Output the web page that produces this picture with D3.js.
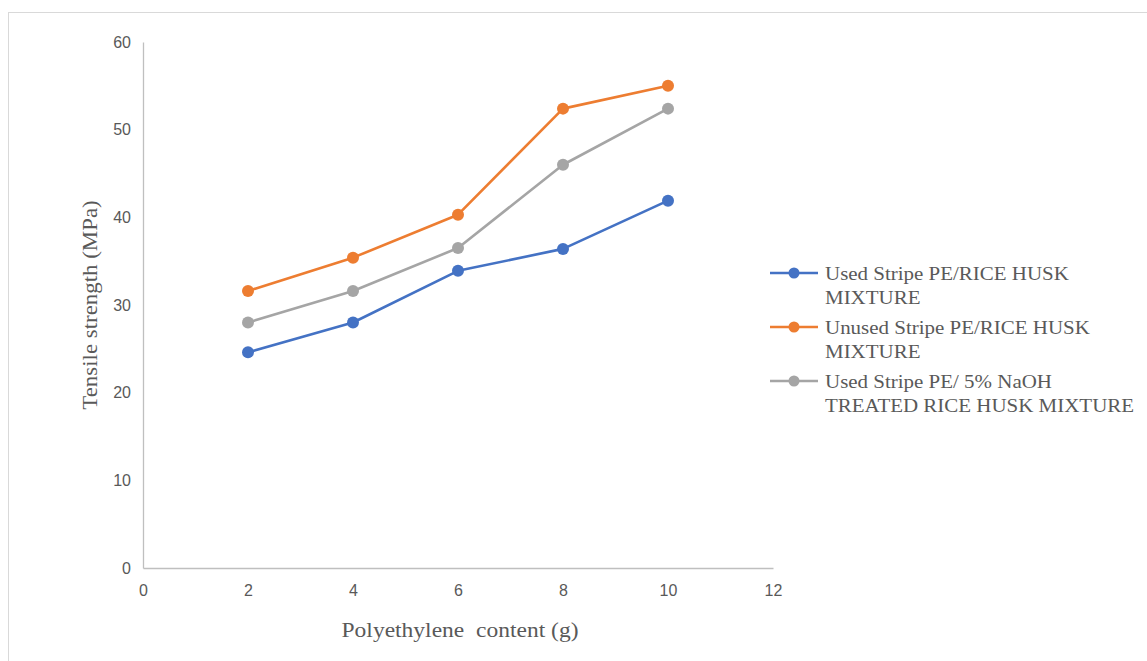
<!DOCTYPE html>
<html>
<head>
<meta charset="utf-8">
<script src="https://cdn.jsdelivr.net/npm/d3@7"></script>
<style>
  body { margin: 0; background: #fff; }
  svg { display: block; }
</style>
</head>
<body>
<div id="wrapper"></div>
<script>
// data
const contents = [2, 4, 6, 8, 10];
const usedStripe = [24.6, 28.0, 33.9, 36.4, 41.9];
const unusedStripe = [31.6, 35.4, 40.3, 52.4, 55.0];
const treatedStripe = [28.0, 31.6, 36.5, 46.0, 52.4];
const seriesNames = [
  ["Used Stripe PE/RICE HUSK", "MIXTURE"],
  ["Unused Stripe PE/RICE HUSK", "MIXTURE"],
  ["Used Stripe PE/ 5% NaOH", "TREATED RICE HUSK MIXTURE"]
];
const seriesColors = ["#4472C4", "#ED7D31", "#A5A5A5"];
const xTicks = [0, 2, 4, 6, 8, 10, 12];
const yTicks = [0, 10, 20, 30, 40, 50, 60];

const series = [usedStripe, unusedStripe, treatedStripe].map((vals, i) => ({
  name: seriesNames[i],
  color: seriesColors[i],
  points: vals.map((v, j) => ({ x: contents[j], y: v }))
}));

const dimensions = {
  width: 1147,
  height: 661,
  margins: { top: 42, left: 143 }
};
dimensions.boundedWidth = 630;
dimensions.boundedHeight = 526;

const serif = "'Liberation Serif', 'Times New Roman', serif";

const svg = d3.select("#wrapper").append("svg")
  .attr("width", dimensions.width)
  .attr("height", dimensions.height);

// outer frame
svg.append("rect")
  .attr("x", 8.5).attr("y", 12.5)
  .attr("width", 1160).attr("height", 670)
  .attr("fill", "none")
  .attr("stroke", "#d9d9d9");

const bounds = svg.append("g")
  .attr("transform", `translate(${dimensions.margins.left},${dimensions.margins.top})`);

const xScale = d3.scaleLinear().domain([0, 12]).range([0, dimensions.boundedWidth]);
const yScale = d3.scaleLinear().domain([0, 60]).range([dimensions.boundedHeight, 0]);

// axes
const xAxis = bounds.append("g")
  .attr("transform", `translate(0,${dimensions.boundedHeight})`)
  .call(d3.axisBottom(xScale).tickValues(xTicks).tickSize(0).tickPadding(17));
const yAxis = bounds.append("g")
  .call(d3.axisLeft(yScale).tickValues(yTicks).tickSize(0).tickPadding(12));

[xAxis, yAxis].forEach(ax => {
  ax.select(".domain").attr("stroke", "#bfbfbf").attr("stroke-width", 1.3);
  ax.selectAll("text")
    .attr("fill", "#595959")
    .style("font-family", "'Liberation Sans', Arial, sans-serif")
    .style("font-size", "16px");
});

// lines
const lineGen = d3.line().x(d => xScale(d.x)).y(d => yScale(d.y));

series.forEach(s => {
  bounds.append("path")
    .attr("d", lineGen(s.points))
    .attr("fill", "none")
    .attr("stroke", s.color)
    .attr("stroke-width", 2.6)
    .attr("stroke-linejoin", "round");
  bounds.selectAll(null)
    .data(s.points)
    .join("circle")
    .attr("cx", d => xScale(d.x))
    .attr("cy", d => yScale(d.y))
    .attr("r", 6)
    .attr("fill", s.color);
});

// axis titles
svg.append("text")
  .attr("transform", "translate(460,637) scale(1.12,1)")
  .attr("text-anchor", "middle")
  .attr("fill", "#595959")
  .style("font-family", serif)
  .style("font-size", "21px")
  .style("white-space", "pre")
  .text("Polyethylene  content (g)");

svg.append("text")
  .attr("transform", "translate(97,305) rotate(-90) scale(1.09,1)")
  .attr("text-anchor", "middle")
  .attr("fill", "#595959")
  .style("font-family", serif)
  .style("font-size", "21px")
  .text("Tensile strength (MPa)");

// legend
const legend = svg.append("g").attr("transform", "translate(770,273)");
series.forEach((s, i) => {
  const g = legend.append("g").attr("transform", `translate(0,${i * 54})`);
  g.append("line")
    .attr("x1", 0).attr("x2", 48)
    .attr("stroke", s.color).attr("stroke-width", 2.6);
  g.append("circle").attr("cx", 24).attr("r", 5.5).attr("fill", s.color);
  const t = g.append("text")
    .attr("transform", "translate(55,7) scale(1.075,1)")
    .attr("fill", "#595959")
    .style("font-family", serif)
    .style("font-size", "19.5px");
  s.name.forEach((line, k) => {
    t.append("tspan").attr("x", 0).attr("dy", k === 0 ? 0 : 24).text(line);
  });
});
</script>
</body>
</html>
